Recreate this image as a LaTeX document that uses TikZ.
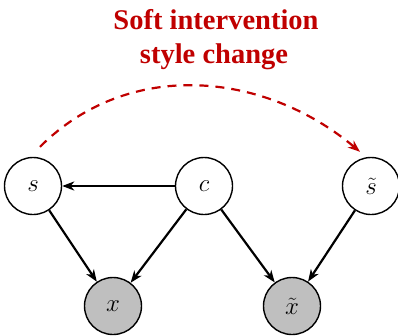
\documentclass[tikz,border=0pt]{standalone}
\usepackage{fontspec}
\setmainfont{Liberation Serif}
\usetikzlibrary{arrows.meta}
\definecolor{intervred}{RGB}{192,0,0}

\begin{document}
\begin{tikzpicture}[
  x=1pt, y=-1pt,
  var/.style={circle, draw, line width=1.4pt, minimum size=57pt, inner sep=0pt,
              font=\fontsize{29}{32}\selectfont},
  obs/.style={var, fill=black!25},
  edge/.style={line width=2.2pt, -{Stealth[length=12pt,width=9pt,inset=3.5pt]}},
  interv/.style={line width=2.2pt, intervred, dash pattern=on 9pt off 7pt,
                 -{Stealth[length=12pt,width=9pt,inset=3.5pt]}}
]
\useasboundingbox (0,0) rectangle (398,335);

% ---------------- Nodes ----------------
\node[var] (s)  at (33,186)  {$s$};
\node[var] (c)  at (204,186) {$c$};
\node[var] (st) at (371,186) {$\tilde{s}$};
\node[obs] (x)  at (113,306) {$x$};
\node[obs] (xt) at (292,306) {$\tilde{x}$};

% ---------------- Causal edges ----------------
\draw[edge] (c) -- (s);
\draw[edge] (s) -- (x);
\draw[edge] (c) -- (x);
\draw[edge] (c) -- (xt);
\draw[edge] (st) -- (xt);

% ---------------- Intervention ----------------
\draw[interv] ([xshift=7pt,yshift=10pt]s.north)
  to[out=45, in=140, looseness=1] ([xshift=-11pt,yshift=5pt]st.north);
\node[anchor=north, inner sep=0pt, align=center, text=intervred,
      font=\fontsize{28.5}{34}\selectfont\bfseries] (lbl) at (216,9.5)
  {Soft intervention\\style change\hspace*{4pt}};

\end{tikzpicture}
\end{document}
